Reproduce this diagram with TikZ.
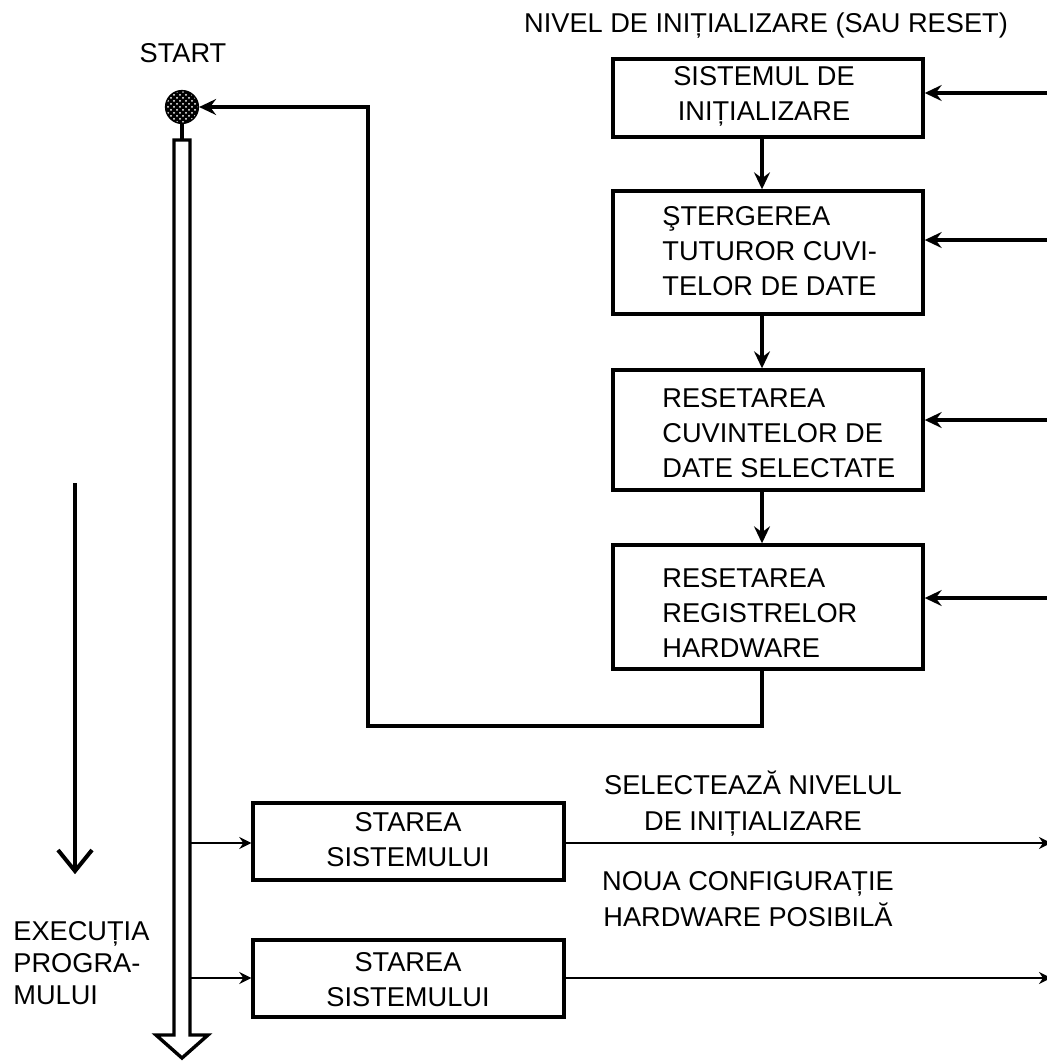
\documentclass[tikz,border=0pt]{standalone}
\usepackage{fontspec}
\setmainfont{Liberation Sans}
\usetikzlibrary{arrows.meta,patterns}

\tikzset{
  box/.style={draw, line width=1.7pt, rectangle, inner sep=0pt},
  lbl/.style={font=\fontsize{13.6}{17.5}\selectfont, inner sep=0pt},
  arr/.style={line width=1.6pt, -{Stealth[length=8.5pt,width=8pt,inset=3pt]}},
  thinarr/.style={line width=1.3pt, -{Stealth[length=6pt,width=6pt,inset=2pt]}},
  ln/.style={line width=1.7pt}
}

\begin{document}
\begin{tikzpicture}[x=0.5pt,y=-0.5pt]
\useasboundingbox (0,0) rectangle (1047,1061);

% column title
\node[lbl] (title) at (766,26) {NIVEL DE INIȚIALIZARE (SAU RESET)};
\node[lbl] (starttxt) at (183,53) {START};

% initialisation chain
\node[box, minimum width=155pt, minimum height=39pt] (b1) at (768,98) {};
\node[lbl, align=center] (b1t) at (764,96) {SISTEMUL DE\\INIȚIALIZARE};

\node[box, minimum width=155pt, minimum height=61.5pt] (b2) at (768,252.5) {};
\node[lbl, align=left, anchor=west] (b2t) at (662,251) {ŞTERGEREA\\TUTUROR CUVI-\\TELOR DE DATE};

\node[box, minimum width=155pt, minimum height=60pt] (b3) at (768,430) {};
\node[lbl, align=left, anchor=west] (b3t) at (662,433) {RESETAREA\\CUVINTELOR DE\\DATE SELECTATE};

\node[box, minimum width=155pt, minimum height=62pt] (b4) at (768,607) {};
\node[lbl, align=left, anchor=west] (b4t) at (662,613) {RESETAREA\\REGISTRELOR\\HARDWARE};

\coordinate (cx) at (762,0);
\draw[arr] (b1.south -| cx) -- (b2.north -| cx);
\draw[arr] (b2.south -| cx) -- (b3.north -| cx);
\draw[arr] (b3.south -| cx) -- (b4.north -| cx);

% reset requests coming in from the right
\coordinate (r1) at (1052,93);
\coordinate (r2) at (1052,240);
\coordinate (r3) at (1052,420);
\coordinate (r4) at (1052,598);
\draw[arr] (r1) -- (r1 -| b1.east);
\draw[arr] (r2) -- (r2 -| b2.east);
\draw[arr] (r3) -- (r3 -| b3.east);
\draw[arr] (r4) -- (r4 -| b4.east);

% start point
\node[circle, draw, line width=1.6pt, minimum size=15.5pt, inner sep=0pt,
      fill=black, postaction={pattern=crosshatch dots, pattern color=white}] (start) at (182,107) {};

% return from the last initialisation step to start
\coordinate (rb) at (368,726);
\draw[arr] (b4.south -| cx) |- (rb) |- (start.east);

% program execution bar (hollow arrow)
\coordinate (shtop) at (182,140);
\draw[ln] (start.south) -- (shtop);
\draw[ln, line join=miter, fill=white]
  (174,140) -- (190,140) -- (190,1035) -- (208,1035) -- (182,1058)
  -- (156,1035) -- (174,1035) -- cycle;

% system state boxes
\node[box, minimum width=155.5pt, minimum height=38.5pt] (b5) at (408.5,841.5) {};
\node[lbl, align=center] (b5t) at (408,840) {STAREA\\SISTEMULUI};
\node[box, minimum width=155.5pt, minimum height=38.5pt] (b6) at (408.5,978.5) {};
\node[lbl, align=center] (b6t) at (408,980) {STAREA\\SISTEMULUI};

\coordinate (s5) at (190,843);
\coordinate (s6) at (190,978);
\draw[thinarr] (s5) -- (s5 -| b5.west);
\draw[thinarr] (s6) -- (s6 -| b6.west);

\coordinate (o5) at (1051,843);
\coordinate (o6) at (1051,978);
\draw[thinarr] (o5 -| b5.east) -- (o5);
\draw[thinarr] (o6 -| b6.east) -- (o6);

\node[lbl, align=center, font=\fontsize{13.6}{18}\selectfont] (sel) at (753,804) {SELECTEAZĂ NIVELUL\\DE INIȚIALIZARE};
\node[lbl, align=center, font=\fontsize{13.6}{18}\selectfont] (cfg) at (748,899) {NOUA CONFIGURAȚIE\\HARDWARE POSIBILĂ};

% execution direction
\coordinate (d1) at (75,483);
\coordinate (d2) at (75,871);
\draw[line width=2pt] (d1) -- (d2);
\draw[line width=2pt, line join=miter] (58,850) -- (d2) -- (92,850);
\node[lbl, align=left, anchor=north west, font=\fontsize{13.6}{16}\selectfont] (exe) at (13,921) {EXECUȚIA\\PROGRA-\\MULUI};

\end{tikzpicture}
\end{document}
